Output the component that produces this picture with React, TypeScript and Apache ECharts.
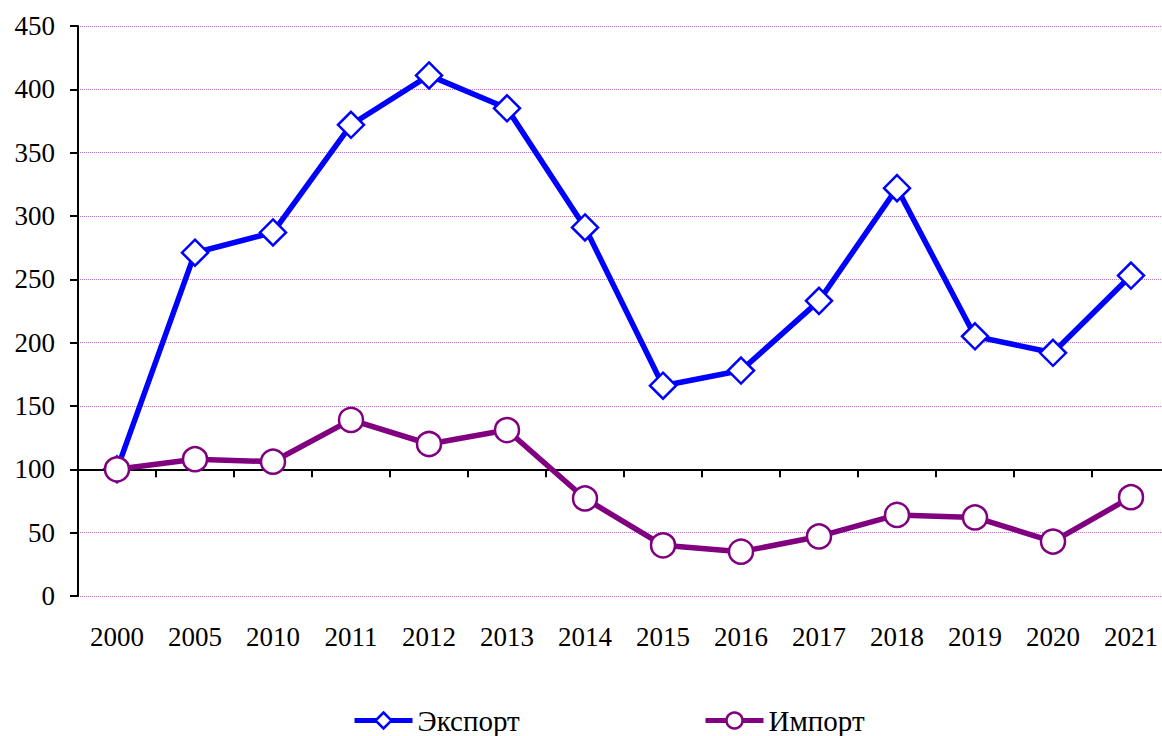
import React, { useEffect, useRef } from "react";
import * as echarts from "echarts";

const categories = ["2000", "2005", "2010", "2011", "2012", "2013", "2014", "2015", "2016", "2017", "2018", "2019", "2020", "2021"];
const exportValues = [100, 271, 287, 372, 411, 385, 291, 166, 178, 233, 322, 205, 192, 253];
const importValues = [100, 108, 106, 139, 120, 131, 77, 40, 35, 47, 64, 62, 43, 78];
const yTicks = { min: 0, max: 450, interval: 50 };
const seriesNames = ["Экспорт", "Импорт"];

const FONT = "Liberation Serif";

export default function App() {
  const ref = useRef<HTMLDivElement>(null);
  useEffect(() => {
    if (!ref.current) return;
    const chart = echarts.init(ref.current, null, { renderer: "svg" });
    const gridTop = 26;
    const gridBottom = 140;
    const plotH = 736 - gridTop - gridBottom;
    const offset100 = -(100 / yTicks.max) * plotH;
    const legendBase = {
      top: 706,
      itemWidth: 58,
      itemHeight: 20,
      padding: 0,
      lineStyle: { width: 5 },
      itemStyle: { borderWidth: 2.5 },
      textStyle: { fontFamily: FONT, fontSize: 29, color: "#000" },
    };
    chart.setOption({
      animation: false,
      backgroundColor: "#ffffff",
      textStyle: { fontFamily: FONT },
      grid: { left: 78, right: 0, top: gridTop, bottom: gridBottom },
      legend: [
        { ...legendBase, left: 352, data: [seriesNames[0]] },
        { ...legendBase, left: 703, data: [seriesNames[1]] },
      ],
      xAxis: [
        {
          type: "category",
          data: categories,
          boundaryGap: true,
          axisLine: { show: false },
          axisTick: { show: false },
          axisLabel: { fontFamily: FONT, fontSize: 27, color: "#000", margin: 27, interval: 0 },
        },
        {
          type: "category",
          data: categories,
          boundaryGap: true,
          position: "bottom",
          offset: offset100,
          axisLine: { show: true, onZero: false, lineStyle: { color: "#000", width: 2 } },
          axisTick: { show: true, length: 8, inside: false, lineStyle: { color: "#000", width: 2 } },
          axisLabel: { show: false },
        },
      ],
      yAxis: {
        type: "value",
        min: yTicks.min,
        max: yTicks.max,
        interval: yTicks.interval,
        axisLine: { show: true, lineStyle: { color: "#000", width: 2 } },
        axisTick: { show: true, length: 8, lineStyle: { color: "#000", width: 2 } },
        axisLabel: { fontFamily: FONT, fontSize: 27, color: "#000", margin: 23 },
        splitLine: { show: true, lineStyle: { color: "#c070c8", width: 1, type: "dotted" } },
      },
      series: [
        {
          name: seriesNames[0],
          type: "line",
          xAxisIndex: 0,
          data: exportValues,
          symbol: "diamond",
          symbolSize: 26,
          lineStyle: { color: "#0000ff", width: 5.5 },
          itemStyle: { color: "#ffffff", borderColor: "#0000ff", borderWidth: 2.5 },
          z: 2,
        },
        {
          name: seriesNames[1],
          type: "line",
          xAxisIndex: 0,
          data: importValues,
          symbol: "circle",
          symbolSize: 24,
          lineStyle: { color: "#800080", width: 5.5 },
          itemStyle: { color: "#ffffff", borderColor: "#800080", borderWidth: 2.5 },
          z: 3,
        },
      ],
    });
    return () => chart.dispose();
  }, []);
  return (
    <div
      ref={ref}
      style={{ position: "fixed", left: 0, top: 0, width: 1170, height: 736 }}
    />
  );
}
